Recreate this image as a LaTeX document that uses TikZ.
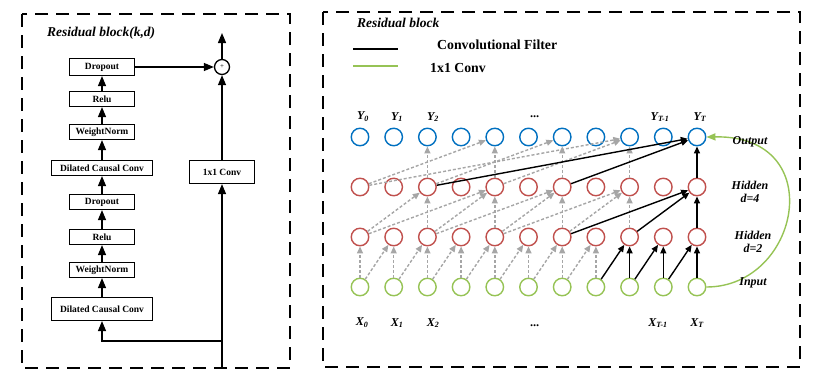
\documentclass[tikz,border=0pt]{standalone}
\usepackage{fontspec}
\setmainfont{Liberation Serif}
\usetikzlibrary{arrows.meta, positioning}

\definecolor{yblue}{RGB}{0,112,192}
\definecolor{hred}{RGB}{192,80,77}
\definecolor{xgreen}{RGB}{150,195,85}
\definecolor{dgray}{RGB}{166,166,166}

\tikzset{
  frame/.style={line width=1.8pt, dash pattern=on 13pt off 8pt},
  blk/.style={draw, line width=1.2pt, minimum width=65pt, minimum height=15pt, inner sep=0pt,
    font=\fontsize{9.5}{10}\selectfont\bfseries},
  flow/.style={-{Triangle[length=10pt,width=8pt]}, line width=1.3pt},
  unit/.style={circle, draw, line width=1.4pt, minimum size=17.5pt, inner sep=0pt},
  dil/.style={-{Triangle[length=7pt,width=6pt]}, dgray, line width=1.4pt, dash pattern=on 3pt off 2pt},
  filt/.style={-{Triangle[length=7pt,width=6pt]}, line width=1.4pt},
  ttl/.style={font=\fontsize{13.5}{15}\selectfont\bfseries\itshape, anchor=west, inner sep=0pt},
  lab/.style={font=\fontsize{12}{13}\selectfont\bfseries\itshape, inner sep=0pt},
}

\newcommand{\sub}[2]{#1\textsubscript{#2}}

\begin{document}
\begin{tikzpicture}[x=1pt, y=-1pt]
  \useasboundingbox (0,0) rectangle (840,380);

  % left: residual block (k,d)
  \draw[frame] (22,14) rectangle (290,368);
  \node[ttl] (lefttitle) at (47,33) {Residual block(k,d)};

  \node[blk, minimum width=101pt, minimum height=23pt] (dcc1) at (102,309) {Dilated Causal Conv};
  \node[blk] (wn1) at (102,270) {WeightNorm};
  \node[blk] (relu1) at (102,237) {Relu};
  \node[blk] (drop1) at (102,202) {Dropout};
  \node[blk, minimum width=101pt] (dcc2) at (102,168) {Dilated Causal Conv};
  \node[blk] (wn2) at (102,132) {WeightNorm};
  \node[blk] (relu2) at (102,99) {Relu};
  \node[blk, minimum height=17pt] (drop2) at (102,67) {Dropout};
  \node[blk, minimum height=23pt] (conv1) at (222,172) {1x1 Conv};
  \node[circle, draw, line width=1.3pt, minimum size=15pt, inner sep=0pt, font=\scriptsize] (sum) at (222,67) {+};

  \coordinate (in) at (222,368);
  \coordinate (split) at (222,341);
  \coordinate (out) at (222,33);

  \draw[flow] (split) -| (dcc1);
  \draw[flow] (dcc1) -- (wn1);
  \draw[flow] (wn1) -- (relu1);
  \draw[flow] (relu1) -- (drop1);
  \draw[flow] (drop1) -- (dcc2);
  \draw[flow] (dcc2) -- (wn2);
  \draw[flow] (wn2) -- (relu2);
  \draw[flow] (relu2) -- (drop2);
  \draw[flow] (drop2) -- (sum);
  \draw[flow] (in) -- (conv1);
  \draw[flow] (conv1) -- (sum);
  \draw[flow] (sum) -- (out);

  % right: dilated convolutions
  \draw[frame] (323,12) rectangle (800,367);
  \node[ttl] (righttitle) at (357,23) {Residual block};

  \coordinate (k1) at (353,49);
  \coordinate (k2) at (398,49);
  \coordinate (g1) at (353,66);
  \coordinate (g2) at (398,66);
  \draw[line width=1.3pt] (k1) -- (k2);
  \draw[xgreen, line width=1.3pt] (g1) -- (g2);
  \node[ttl, font=\fontsize{13.8}{15}\selectfont\bfseries] (keyfilt) at (437,45) {Convolutional Filter};
  \node[ttl, font=\fontsize{13.8}{15}\selectfont\bfseries] (keyconv) at (430,68) {1x1 Conv};

  \foreach \i in {0,...,10}{
    \node[unit, draw=xgreen] (x\i) at (360+33.7*\i,287) {};
    \node[unit, draw=hred] (a\i) at (360+33.7*\i,237) {};
    \node[unit, draw=hred] (b\i) at (360+33.7*\i,187) {};
    \node[unit, draw=yblue] (y\i) at (360+33.7*\i,137) {};
  }

  % input -> hidden d=2
  \foreach \i/\j in {0/0,1/1,2/2,3/3,4/4,5/5,6/6,7/7,0/1,1/2,2/3,3/4,4/5,5/6,6/7}
    \draw[dil] (x\i) -- (a\j);
  \foreach \i/\j in {7/8,8/8,8/9,9/9,9/10,10/10}
    \draw[filt] (x\i) -- (a\j);

  % hidden d=2 -> hidden d=4
  \foreach \i/\j in {2/2,4/4,6/6,8/8,0/2,0/4,2/4,2/6,4/6,4/8,6/8}
    \draw[dil] (a\i) -- (b\j);
  \foreach \i in {6,8,10}
    \draw[filt] (a\i) -- (b10);

  % hidden d=4 -> output
  \foreach \i/\j in {2/2,4/4,6/6,8/8,0/4,0/8,2/6,4/8}
    \draw[dil] (b\i) -- (y\j);
  \foreach \i in {2,6,10}
    \draw[filt] (b\i) -- (y10);

  \draw[xgreen, line width=1.4pt, -{Triangle[length=9pt,width=7pt]}]
    (x10.east) .. controls (800,287) and (830,135) .. (y10.east);

  \node[lab] (ly0) at (363,117) {\sub{Y}{0}};
  \node[lab] (ly1) at (397,117) {\sub{Y}{1}};
  \node[lab] (ly2) at (433,117) {\sub{Y}{2}};
  \node[lab] (lydots) at (535,117) {...};
  \node[lab] (ly9) at (660,117) {\sub{Y}{T-1}};
  \node[lab] (ly10) at (700,117) {\sub{Y}{T}};

  \node[lab] (lx0) at (362,323) {\sub{X}{0}};
  \node[lab] (lx1) at (397,323) {\sub{X}{1}};
  \node[lab] (lx2) at (433,323) {\sub{X}{2}};
  \node[lab] (lxdots) at (535,326) {...};
  \node[lab] (lx9) at (658,323) {\sub{X}{T-1}};
  \node[lab] (lx10) at (697,323) {\sub{X}{T}};

  \node[lab] (lout) at (750,142) {Output};
  \node[lab, align=center] (lh4) at (750,192) {Hidden\\d=4};
  \node[lab, align=center] (lh2) at (753,242) {Hidden\\d=2};
  \node[lab] (linp) at (753,283) {Input};
\end{tikzpicture}
\end{document}
